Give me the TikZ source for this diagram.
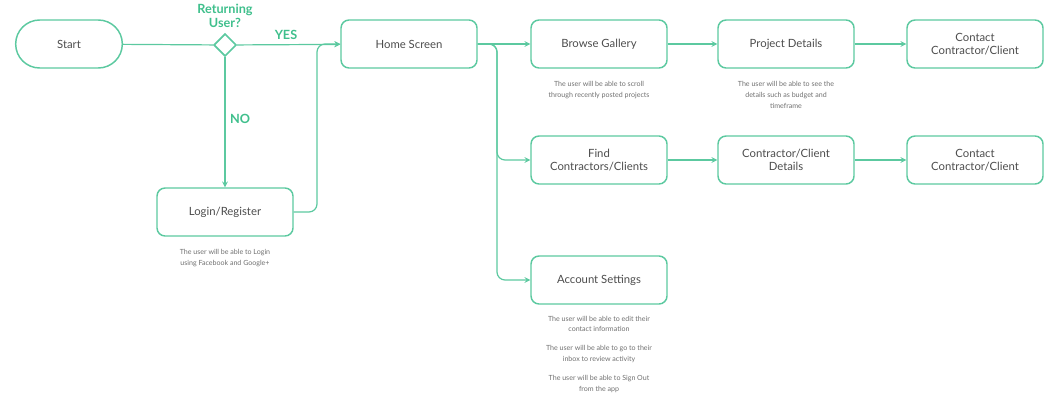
\documentclass[tikz,border=0pt]{standalone}
\usepackage{fontspec}
\setmainfont{Lato}
\usetikzlibrary{arrows,positioning,shapes.geometric}
\definecolor{mint}{HTML}{5CC9A0}
\definecolor{mintdark}{HTML}{3FBF8C}
\definecolor{notegray}{HTML}{707070}
\begin{document}
\begin{tikzpicture}[x=0.75pt,y=-0.75pt,->,>=stealth,thick,
    box node/.style={rectangle,rounded corners=6pt,draw=mint,line width=1.1pt,minimum width=102pt,minimum height=36pt,align=center,font=\fontsize{8.5}{10}\selectfont,text=black!70},
    end node/.style={box node,rounded corners=18pt,minimum width=80pt},
    choice node/.style={diamond,draw=mint,line width=1.3pt,minimum size=17pt,inner sep=0pt},
    note/.style={align=center,font=\fontsize{5.3}{8}\selectfont,text=notegray},
    tag/.style={font=\bfseries\fontsize{9.5}{11}\selectfont,text=mintdark,align=center},
    link/.style={->,draw=mint,line width=0.9pt,rounded corners=6pt}]
  \useasboundingbox (0,0) rectangle (1060,414);
  \node[end node] (start) at (69,44) {Start};
  \node[choice node] (ask) at (225,45) {};
  \node[box node] (login) at (225,212) {Login/Register};
  \node[box node] (home) at (409,44) {Home Screen};
  \node[box node] (browse) at (599,44) {Browse Gallery};
  \node[box node] (project) at (786,44) {Project Details};
  \node[box node] (contact1) at (975,44) {Contact\\Contractor/Client};
  \node[box node] (find) at (599,160) {Find\\Contractors/Clients};
  \node[box node] (details) at (786,160) {Contractor/Client\\Details};
  \node[box node] (contact2) at (975,160) {Contact\\Contractor/Client};
  \node[box node] (account) at (599,280) {Account Settings};
  % labels
  \node[tag] (asktext) at (225,16) {Returning\\User?};
  \node[tag] (yes) at (286,35) {YES};
  \node[tag] (no) at (240,119) {NO};
  % notes
  \node[note] (n1) at (599,90) {The user will be able to scroll\\through recently posted projects};
  \node[note] (n2) at (786,95) {The user will be able to see the\\details such as budget and\\timeframe};
  \node[note] (n3) at (225,258) {The user will be able to Login\\using Facebook and Google+};
  \node[note] (n4) at (599,324) {The user will be able to edit their\\contact information};
  \node[note] (n5) at (599,354) {The user will be able to go to their\\inbox to review activity};
  \node[note] (n6) at (599,384) {The user will be able to Sign Out\\from the app};
  % connectors
  \draw[link,-] (start) -- (ask);
  \draw[link] (ask) -- (home);
  \draw[link] (ask) -- (login);
  \draw[link] (login.east) -| (317,100) |- (home.west);
  \draw[link] (home) -- (browse);
  \draw[link] (home.east) -| (497,100) |- (find.west);
  \draw[link] (home.east) -| (497,200) |- (account.west);
  \draw[link] (browse) -- (project);
  \draw[link] (project) -- (contact1);
  \draw[link] (find) -- (details);
  \draw[link] (details) -- (contact2);
\end{tikzpicture}
\end{document}
